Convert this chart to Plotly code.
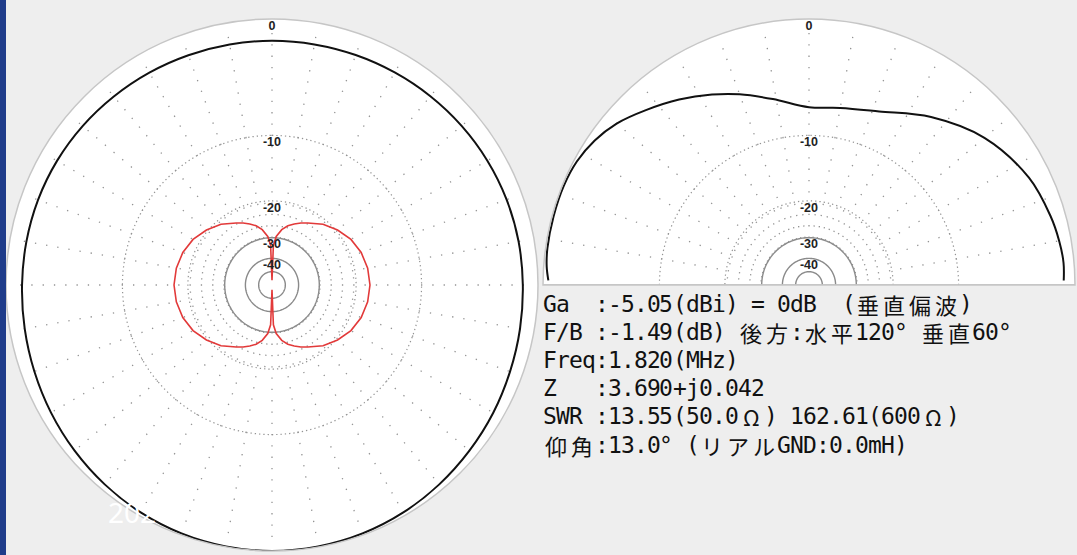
import plotly.graph_objects as go

W, H = 1077, 555

# ---------------- data ----------------
# Horizontal-plane pattern, azimuth clockwise from the front (deg), dB relative to max
h_az = [0, 10, 20, 30, 40, 50, 60, 70, 80, 90, 100, 110, 120, 130, 140, 150, 160, 170,
        180, 190, 200, 210, 220, 230, 240, 250, 260, 270, 280, 290, 300, 310, 320, 330,
        340, 350, 360]
h_vpol_db = [-1.49, -1.48, -1.45, -1.40, -1.33, -1.25, -1.17, -1.10, -1.05, -1.02, -0.95,
             -0.85, -0.70, -0.55, -0.38, -0.22, -0.10, -0.03, 0.00, -0.03, -0.10, -0.22,
             -0.38, -0.55, -0.72, -0.88, -1.00, -1.08, -1.12, -1.15, -1.20, -1.27, -1.35,
             -1.41, -1.46, -1.48, -1.49]

h_hpol_az = [0, 2, 5, 10, 15, 20, 25, 30, 40, 50, 60, 70, 80, 90, 100, 110, 120, 130, 140,
             150, 155, 160, 165, 170, 175, 178, 180, 182, 185, 190, 195, 200, 205, 210, 220,
             230, 240, 250, 260, 270, 280, 290, 300, 310, 320, 330, 335, 340, 345, 350, 355,
             358, 360]
h_hpol_db = [-70.0, -33.0, -29.5, -27.0, -25.5, -24.5, -23.6, -22.8, -21.0, -19.7, -18.6,
             -17.9, -17.5, -17.35, -17.5, -17.9, -18.6, -19.7, -21.0, -22.8, -23.6, -24.5,
             -25.5, -27.0, -29.5, -33.0, -70.0, -33.0, -29.5, -27.0, -25.5, -24.5, -23.6,
             -22.8, -21.0, -19.7, -18.6, -17.9, -17.5, -17.35, -17.5, -17.9, -18.6, -19.7,
             -21.0, -22.8, -23.6, -24.5, -25.5, -27.0, -29.5, -33.0, -70.0]

# Vertical-plane pattern, elevation measured from the front horizon (deg)
v_el = [1, 5, 10, 16, 26, 40, 54, 68, 80, 90, 101, 110, 117, 125, 133, 140, 146, 152,
        158, 165, 172, 176, 179]
v_db = [-0.75, -0.70, -0.80, -1.00, -1.45, -2.60, -4.30, -6.10, -6.80, -7.00, -5.90,
        -4.70, -3.80, -2.80, -1.85, -1.00, -0.50, -0.20, -0.10, -0.10, -0.12, -0.20, -0.35]

ring_dotted_db = [-10, -20]
ring_solid_db = [-30, -40, -52]
scale_label_db = [0, -10, -20, -30, -40]
scale_labels = ["0", "-10", "-20", "-30", "-40"]

info_lines = [
    "Ga  :-5.05(dBi) = 0dB  (垂直偏波)",
    "F/B :-1.49(dB) 後方:水平120° 垂直60°",
    "Freq:1.820(MHz)",
    "Z   :3.690+j0.042",
    "SWR :13.55(50.0Ω) 162.61(600Ω)",
    "仰角:13.0° (リアルGND:0.0mH)",
]

# ---------------- geometry ----------------
R = 266
LCX, LCY = 272, 285
RCX, RCY = 809, 285


def r_of(db):
    # log display scale: 10 dB per factor 10**0.25 in radius
    return 10 ** (db / 40.0)


GRID_DOT = "#939393"
GRID_SOLID = "#8a8a8a"

fig = go.Figure()


def add_grid(subplot, full):
    a1 = 360 if full else 180
    circ = list(range(0, a1 + 1, 2))
    for db in ring_dotted_db:
        fig.add_trace(go.Scatterpolar(
            theta=circ, r=[r_of(db)] * len(circ), mode="lines", subplot=subplot,
            line=dict(color=GRID_DOT, width=1.2, dash="1.3px,3px"), hoverinfo="skip"))
    for db in ring_solid_db:
        fig.add_trace(go.Scatterpolar(
            theta=circ, r=[r_of(db)] * len(circ), mode="lines", subplot=subplot,
            line=dict(color=GRID_SOLID, width=1.4), hoverinfo="skip"))
    # spokes: every 10 deg out to the rim, in-between ones only to the -20 ring
    th, rr = [], []
    start, stop = (0, 360) if full else (10, 171)
    for a in range(start, stop, 10):
        th += [a, a, None]
        rr += [r_of(-30), 0.985, None]
    for a in range(5, 360 if full else 180, 10):
        th += [a, a, None]
        rr += [r_of(-30), r_of(-20), None]
    fig.add_trace(go.Scatterpolar(
        theta=th, r=rr, mode="lines", subplot=subplot, connectgaps=False,
        line=dict(color=GRID_DOT, width=1.3, dash="1.3px,10px"), hoverinfo="skip"))


add_grid("polar", True)
add_grid("polar2", False)

# horizon line of the vertical plot
fig.add_trace(go.Scatterpolar(
    theta=[0, 0, 180], r=[1, 0, 1], mode="lines", subplot="polar2",
    line=dict(color="#b4b4b4", width=1.6), hoverinfo="skip"))

# patterns
fig.add_trace(go.Scatterpolar(
    theta=h_hpol_az, r=[r_of(v) for v in h_hpol_db], mode="lines", subplot="polar",
    line=dict(color="#e23a3a", width=1.6), hoverinfo="skip"))
fig.add_trace(go.Scatterpolar(
    theta=h_az, r=[r_of(v) for v in h_vpol_db], mode="lines", subplot="polar",
    line=dict(color="#111111", width=2, shape="spline"), hoverinfo="skip"))
fig.add_trace(go.Scatterpolar(
    theta=v_el, r=[r_of(v) for v in v_db], mode="lines", subplot="polar2",
    line=dict(color="#111111", width=2, shape="spline"), hoverinfo="skip"))

# dB scale labels along the vertical spoke
lab_r = [max(r_of(db) - 7.5 / R, 0) for db in scale_label_db]
lab_txt = ["<b>%s</b>" % s for s in scale_labels]
for sp, ang in (("polar", 0), ("polar2", 90)):
    fig.add_trace(go.Scatterpolar(
        theta=[ang] * len(lab_r), r=lab_r, text=lab_txt, mode="text", subplot=sp,
        textfont=dict(family="Liberation Sans, Arial", size=12.5, color="#222222"),
        hoverinfo="skip"))

polar_common = dict(
    bgcolor="white",
    radialaxis=dict(range=[0, 1], showgrid=False, showticklabels=False, ticks="",
                    showline=False),
)

fig.update_layout(
    width=W, height=H,
    margin=dict(l=0, r=0, t=0, b=0),
    paper_bgcolor="#eeeeee",
    plot_bgcolor="#eeeeee",
    showlegend=False,
    polar=dict(
        domain=dict(x=[(LCX - R) / W, (LCX + R) / W], y=[1 - (LCY + R) / H, 1 - (LCY - R) / H]),
        angularaxis=dict(rotation=90, direction="clockwise", showgrid=False,
                         showticklabels=False, ticks="", showline=True,
                         linecolor="#c6c6c6", linewidth=1.5),
        **polar_common),
    polar2=dict(
        sector=[0, 180],
        domain=dict(x=[(RCX - R) / W, (RCX + R) / W], y=[1 - RCY / H, 1 - (RCY - R) / H]),
        angularaxis=dict(rotation=0, direction="counterclockwise", showgrid=False,
                         showticklabels=False, ticks="", showline=True,
                         linecolor="#c6c6c6", linewidth=1.5),
        **polar_common),
)

# ---------------- info text: fixed-pitch cells, 13 px per half-width column ----------------
COL_W = 13
TX0 = 543
LINE_Y = [304, 332, 360, 388, 416, 445]
MONO = "DejaVu Sans Mono"
CJK = "Noto Sans CJK JP"


def cell_width(ch):
    return 2 if (ord(ch) >= 0x2E80 or ch == "Ω") else 1


annotations = []
for line, ypx in zip(info_lines, LINE_Y):
    col = 0
    for ch in line:
        w = cell_width(ch)
        if ch != " ":
            family, size = (CJK, 22) if w == 2 else (MONO, 23)
            annotations.append(dict(
                text=ch, x=(TX0 + (col + w / 2) * COL_W) / W, y=1 - ypx / H,
                xref="paper", yref="paper", xanchor="center", yanchor="middle",
                showarrow=False, font=dict(family=family, size=size, color="#111111")))
        col += w

# watermark fragment at lower left
annotations.append(dict(
    text="202", x=106 / W, y=1 - 512 / H, xref="paper", yref="paper",
    xanchor="left", yanchor="middle", showarrow=False,
    font=dict(family="Noto Sans", size=28, color="white")))

fig.update_layout(annotations=annotations)

# dark slide edge on the left
fig.add_shape(type="rect", xref="paper", yref="paper", x0=0, x1=6 / W, y0=0, y1=1,
              fillcolor="#1f3c8a", line=dict(width=0), layer="above")

fig.write_html("out.html")
